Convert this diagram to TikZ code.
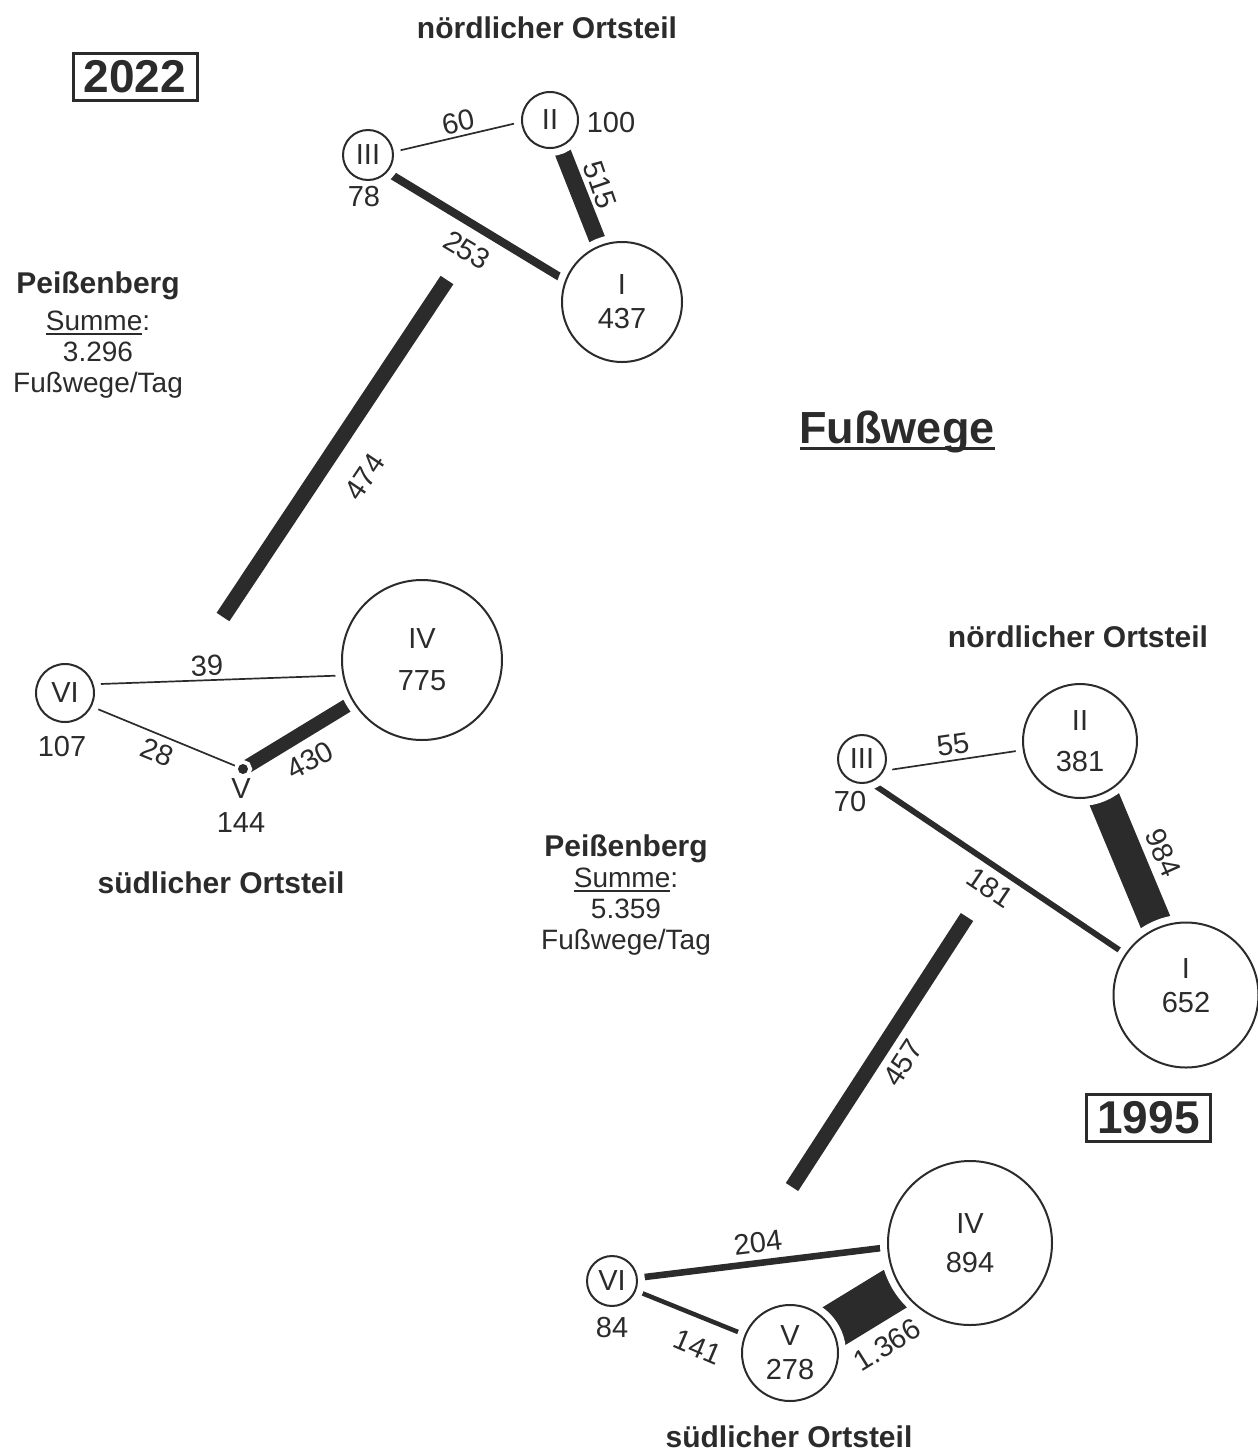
\documentclass[tikz,border=0pt]{standalone}
\usepackage{fontspec}
\setmainfont{Liberation Sans}
\usetikzlibrary{backgrounds}
\definecolor{ink}{HTML}{2B2B2B}
\newcommand\strich[3]{\leavevmode\setbox0\hbox{#3}\rlap{\rule[#2]{\wd0}{#1}}\box0}
\begin{document}
\begin{tikzpicture}[x=0.5pt,y=-0.5pt,
  ort/.style={circle,draw=ink,line width=1pt,fill=white,inner sep=0pt,
    minimum size=#1,align=center,text=ink,font=\fontsize{14.5}{17}\selectfont,
    preaction={draw=white,line width=8pt}},
  punkt/.style={circle,fill=ink,inner sep=0pt,minimum size=5pt,
    preaction={draw=white,line width=4pt}},
  weg/.style={ink,line width={#1/62*1pt}},
  duenn/.style={ink,line width=0.85pt},
  zahl/.style={text=ink,inner sep=0pt,font=\fontsize{14.5}{17}\selectfont},
  titel/.style={text=ink,inner sep=0pt,font=\fontsize{15}{18}\selectfont\bfseries},
  summe/.style={text=ink,inner sep=0pt,align=center,font=\fontsize{14}{15.5}\selectfont},
  jahr/.style={draw=ink,line width=1.5pt,text=ink,inner sep=0pt,
    minimum width=62pt,minimum height=23.5pt,font=\fontsize{23}{27}\selectfont\bfseries}]
\useasboundingbox (0,0) rectangle (1258,1452);

% 2022
\node[ort=25pt] (III22) at (368,155) {III};
\node[ort=28pt] (II22) at (550,120) {II};
\node[ort=60pt] (I22) at (622,302) {I\\437};
\node[ort=29pt] (VI22) at (65,693) {VI};
\node[ort=80pt] (IV22) at (422,660) {IV\\[4pt]775};
\node[punkt] (V22) at (243,769) {};
\coordinate (n22) at (447,280);
\coordinate (s22) at (223,617);

\begin{scope}[on background layer]
\draw[duenn] (III22.7) -- (II22.184);
\draw[weg=515] (II22.center) -- (I22.center);
\draw[weg=253] (III22.-42) -- (I22.159);
\draw[duenn] (VI22.17) -- (IV22.191);
\draw[duenn] (VI22.-27) -- (V22.center);
\draw[weg=430] (V22.center) -- (IV22.center);
\end{scope}
\draw[weg=474] (n22) -- (s22);

\node[zahl] (w78) at (364,197) {78};
\node[zahl] (w100) at (611,123) {100};
\node[zahl] (w107) at (62,747) {107};
\node[zahl,align=center] (w144) at (241,806) {V\\144};
\node[zahl,rotate=12] (e60) at (458,122) {60};
\node[zahl,rotate=-71] (e515) at (600,185) {515};
\node[zahl,rotate=-31] (e253) at (467,250) {253};
\node[zahl,rotate=56] (e474) at (365,477) {474};
\node[zahl,rotate=2] (e39) at (207,666) {39};
\node[zahl,rotate=-22] (e28) at (157,752) {28};
\node[zahl,rotate=28] (e430) at (310,760) {430};

\node[jahr] (j22) at (135,76.5) {2022};
\node[titel] (nord22) at (547,28) {nördlicher Ortsteil};
\node[titel] (sued22) at (221,883) {südlicher Ortsteil};
\node[summe] (sum22) at (98,335) {\textbf{\fontsize{15}{15.5}\selectfont Peißenberg}\\[3pt]
  \strich{1pt}{-2.5pt}{Summe}:\\3.296\\Fußwege/Tag};

\node[text=ink,inner sep=0pt,font=\fontsize{22.5}{27}\selectfont\bfseries] (haupt) at (897,432)
  {\strich{1.6pt}{-3.3pt}{Fußwege}};

% 1995
\node[ort=24pt] (III95) at (862,759) {III};
\node[ort=57pt] (II95) at (1080,741) {II\\[3.5pt]381};
\node[ort=72.5pt,text depth=9pt] (I95) at (1186,995) {I\\652};
\node[ort=25pt] (VI95) at (612,1281) {VI};
\node[ort=82pt] (IV95) at (970,1243) {IV\\[2.5pt]894};
\node[ort=48pt] (V95) at (790,1353) {V\\278};
\coordinate (n95) at (967,917);
\coordinate (s95) at (792,1187);

\begin{scope}[on background layer]
\draw[duenn] (III95.-28) -- (II95.189);
\draw[weg=181] (III95.-70) -- (I95.146);
\draw[weg=984] (II95.center) -- (I95.center);
\draw[weg=204] (VI95.center) -- (IV95.183);
\draw[weg=141] (VI95.center) -- (V95.center);
\draw[weg=1366] (V95.center) -- (IV95.center);
\end{scope}
\draw[weg=457] (n95) -- (s95);

\node[zahl] (w70) at (850,802) {70};
\node[zahl] (w84) at (612,1327) {84};
\node[zahl,rotate=8] (e55) at (953,745) {55};
\node[zahl,rotate=-34] (e181) at (990,888) {181};
\node[zahl,rotate=-66] (e984) at (1163,853) {984};
\node[zahl,rotate=57] (e457) at (903,1063) {457};
\node[zahl,rotate=7] (e204) at (758,1243) {204};
\node[zahl,rotate=-23] (e141) at (698,1347) {141};
\node[zahl,rotate=32] (e1366) at (887,1345) {1.366};

\node[jahr] (j95) at (1148.5,1117.5) {1995};
\node[titel] (nord95) at (1078,637) {nördlicher Ortsteil};
\node[titel] (sued95) at (789,1437) {südlicher Ortsteil};
\node[summe] (sum95) at (626,895) {\textbf{\fontsize{15}{15.5}\selectfont Peißenberg}\\
  \strich{1pt}{-2.5pt}{Summe}:\\5.359\\Fußwege/Tag};
\end{tikzpicture}
\end{document}
